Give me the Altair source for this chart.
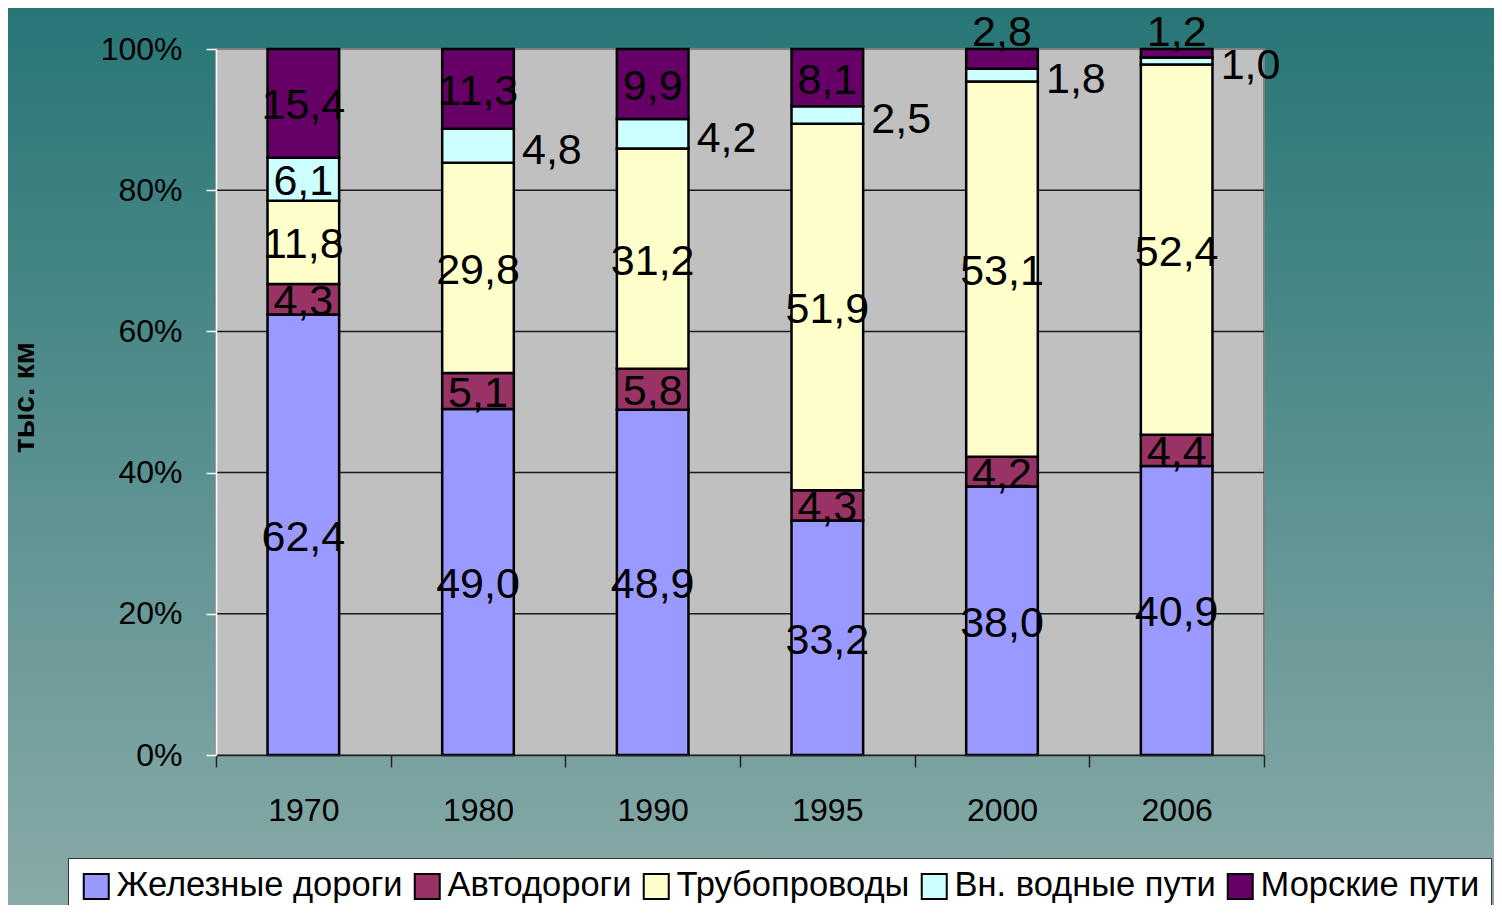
import altair as alt
import pandas as pd

# ---- data ----
years = ["1970", "1980", "1990", "1995", "2000", "2006"]
modes = ["Железные дороги", "Автодороги", "Трубопроводы", "Вн. водные пути", "Морские пути"]
rail = [62.4, 49.0, 48.9, 33.2, 38.0, 40.9]
road = [4.3, 5.1, 5.8, 4.3, 4.2, 4.4]
pipe = [11.8, 29.8, 31.2, 51.9, 53.1, 52.4]
water = [6.1, 4.8, 4.2, 2.5, 1.8, 1.0]
sea = [15.4, 11.3, 9.9, 8.1, 2.8, 1.2]
colors = ["#9999FF", "#993366", "#FFFFCC", "#CCFFFF", "#660066"]
y_ticks = [0, 0.2, 0.4, 0.6, 0.8, 1.0]
y_title = "тыс. км"

series = [rail, road, pipe, water, sea]
rows = []
for k, (m, vals) in enumerate(zip(modes, series)):
    for yr, v in zip(years, vals):
        rows.append({"year": yr, "mode": m, "k": k, "value": v})
df = pd.DataFrame(rows)
grid_df = pd.DataFrame({"g": y_ticks[1:-1]})
one = pd.DataFrame({"a": [0]})

W, H = 1048, 706
PAD = dict(left=208, top=41, right=230, bottom=150)
FONT = "Liberation Sans"

x_scale = alt.Scale(domain=years, paddingInner=0, paddingOuter=0)
y_scale = alt.Scale(domain=[0, 1], nice=False)

x_axis = alt.Axis(title=None, labelFont=FONT, labelFontSize=32, labelColor="black",
                  labelAngle=0, labelPadding=28, tickBand="extent", tickSize=12,
                  tickColor="#222222", tickWidth=1.5, domainColor="#222222",
                  domainWidth=1.5, grid=False, zindex=1)
y_axis = alt.Axis(values=y_ticks, format=".0%", labelFont=FONT, labelFontSize=32,
                  labelColor="black", labelPadding=24, tickSize=10, tickColor="white",
                  tickWidth=1.5, domainColor="white", domainWidth=1.5, grid=False,
                  zindex=1, title=y_title, titleFont=FONT, titleFontSize=30,
                  titleFontWeight="bold", titleColor="black", titleAngle=270,
                  titleX=-192, titleY=348, titleAlign="center", titleBaseline="middle")

legend = alt.Legend(orient="none", legendX=-148, legendY=809, direction="horizontal",
                    title=None, labelFont=FONT, labelFontSize=34.5, labelColor="black",
                    labelLimit=1000, symbolType="square", symbolSize=625,
                    symbolStrokeColor="black", symbolStrokeWidth=2, symbolOpacity=1,
                    fillColor="white", strokeColor="#333333", padding=11,
                    columnPadding=7, labelOffset=3, zindex=1)

bg = alt.Chart(one).mark_rect(
    fill=alt.LinearGradient(
        gradient="linear",
        stops=[alt.GradientStop(color="#287676", offset=0),
               alt.GradientStop(color="#88AAA8", offset=1)],
        x1=0, x2=0, y1=0, y2=1),
).encode(x=alt.value(-PAD["left"]), x2=alt.value(W + PAD["right"]),
         y=alt.value(-PAD["top"]), y2=alt.value(H + PAD["bottom"]))

plot_bg = alt.Chart(one).mark_rect(fill="#C0C0C0", stroke="#808080", strokeWidth=2).encode(
    x=alt.value(0), x2=alt.value(W), y=alt.value(0), y2=alt.value(H))

grid = alt.Chart(grid_df).mark_rule(color="#1a1a1a", strokeWidth=1.5).encode(
    y=alt.Y("g:Q", scale=y_scale, axis=y_axis))

bars = alt.Chart(df).mark_bar(
    stroke="black", strokeWidth=2.5, width=alt.RelativeBandSize(band=0.41),
).encode(
    x=alt.X("year:N", sort=years, scale=x_scale, axis=x_axis),
    y=alt.Y("sum(value):Q", stack="normalize", scale=y_scale, axis=y_axis),
    fill=alt.Fill("mode:N", scale=alt.Scale(domain=modes, range=colors), legend=legend),
    order=alt.Order("k:Q", sort="ascending"),
)

lab_base = alt.Chart(df).transform_stack(
    stack="value", groupby=["year"], as_=["v0", "v1"], offset="normalize",
    sort=[alt.SortField("k", order="ascending")],
).transform_calculate(
    mid="(datum.v0 + datum.v1) / 2",
    label="replace(format(datum.value, '.1f'), '.', ',')",
)

RIGHT = "datum.k == 3 && datum.year != '1970'"
TOP = "datum.k == 4 && (datum.year == '2000' || datum.year == '2006')"

inside = lab_base.transform_filter(f"!({RIGHT}) && !({TOP})").mark_text(
    font=FONT, fontSize=43, color="black", baseline="middle", dy=3,
).encode(x=alt.X("year:N", sort=years, scale=x_scale, axis=x_axis),
         y=alt.Y("mid:Q", scale=y_scale, axis=y_axis), text="label:N")

right = lab_base.transform_filter(RIGHT).mark_text(
    font=FONT, fontSize=43, color="black", baseline="middle", align="left", dx=44, dy=5,
).encode(x=alt.X("year:N", sort=years, scale=x_scale, axis=x_axis),
         y=alt.Y("mid:Q", scale=y_scale, axis=y_axis), text="label:N")

top = lab_base.transform_filter(TOP).mark_text(
    font=FONT, fontSize=43, color="black", baseline="alphabetic", dy=-3,
).encode(x=alt.X("year:N", sort=years, scale=x_scale, axis=x_axis),
         y=alt.Y("v1:Q", scale=y_scale, axis=y_axis), text="label:N")

chart = alt.layer(bg, plot_bg, grid, bars, inside, right, top).properties(
    width=W, height=H, padding=PAD, autosize=alt.AutoSizeParams(type="none"),
).configure(background="#5A8F8E", font=FONT).configure_view(strokeWidth=0)

chart.save("out.html", embed_options={"renderer": "svg", "actions": False})
